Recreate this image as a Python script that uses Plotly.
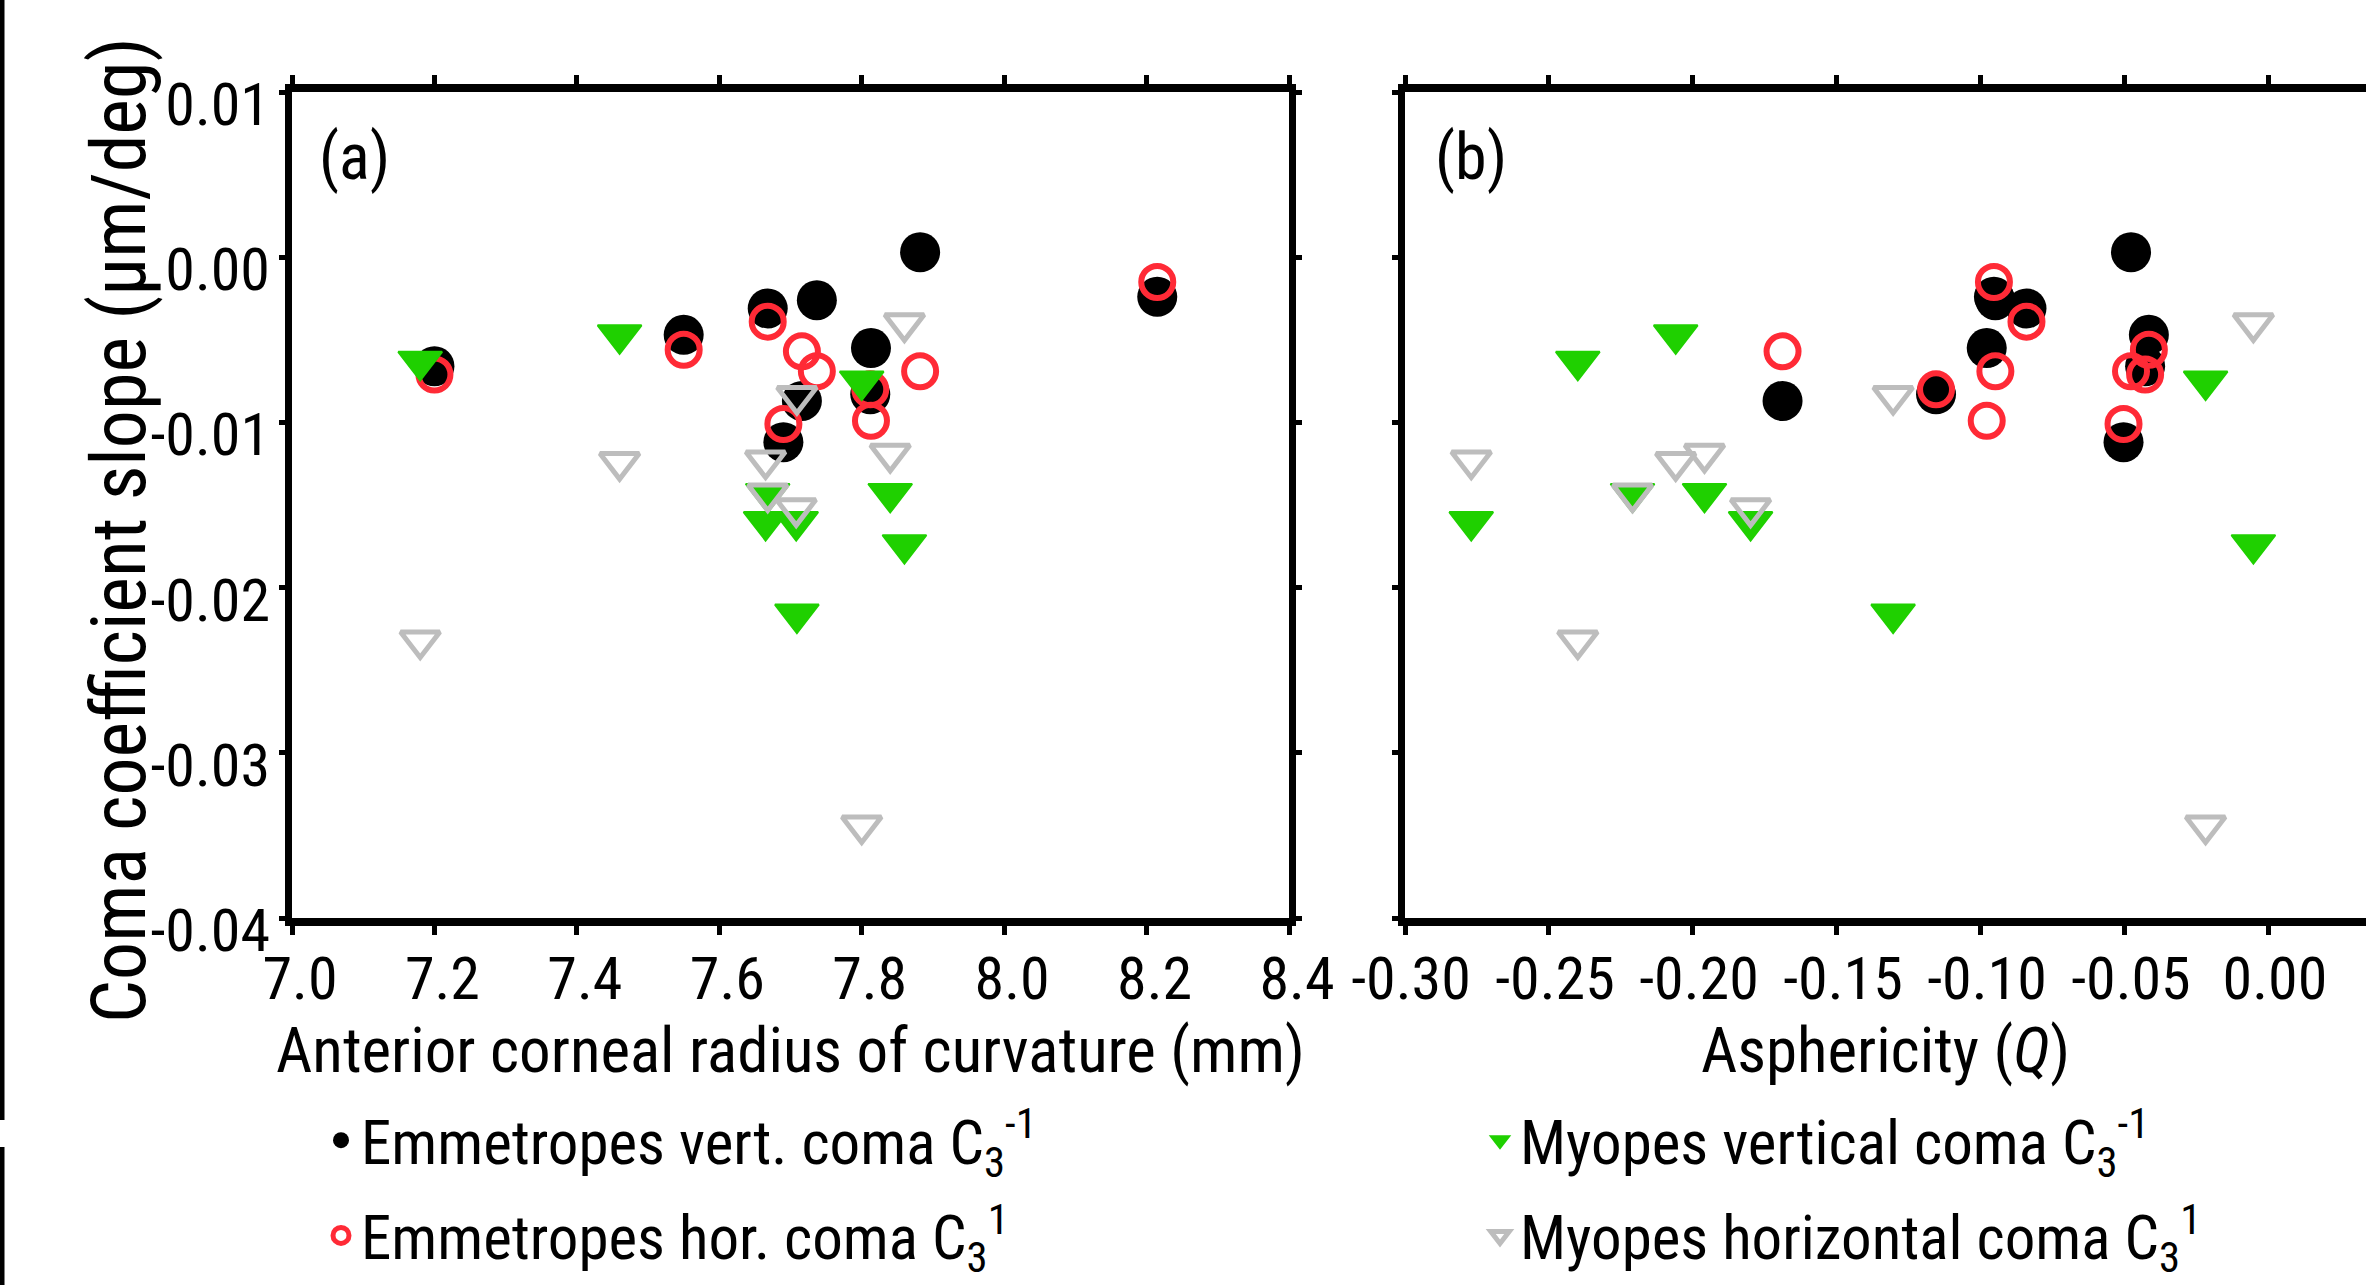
import plotly.graph_objects as go

# ---------------- data ----------------
# Emmetropes (10 eyes)
radius_emm = [7.20, 7.55, 7.668, 7.737, 7.882, 7.813, 7.812, 7.716, 7.690, 8.215]
q_emm = [-0.043, -0.0417, -0.0842, -0.0950, -0.0479, -0.0980, -0.1156, -0.1689, -0.0505, -0.0955]
vert_emm = [-0.0066, -0.0047, -0.0031, -0.0026, 0.0003, -0.0055, -0.0083, -0.0087, -0.0112, -0.0024]
hor_emm = [-0.0071, -0.0056, -0.0039, -0.0069, -0.0069, -0.0099, -0.0080, -0.0057, -0.0101, -0.0015]

# Myopes (9 eyes)
radius_myo = [7.18, 7.46, 7.665, 7.668, 7.708, 7.709, 7.80, 7.84, 7.86]
q_myo = [-0.240, -0.206, -0.277, -0.221, -0.180, -0.1305, -0.022, -0.196, -0.0054]
vert_myo = [-0.0063, -0.0047, -0.0160, -0.0143, -0.0160, -0.0216, -0.0075, -0.0143, -0.0174]
hor_myo = [-0.0232, -0.0124, -0.0123, -0.0143, -0.0152, -0.0084, -0.0344, -0.0119, -0.0040]

# axes ticks / labels
x_a_ticks = [7.0, 7.2, 7.4, 7.6, 7.8, 8.0, 8.2, 8.4]
x_a_labels = ["7.0", "7.2", "7.4", "7.6", "7.8", "8.0", "8.2", "8.4"]
x_b_ticks = [-0.30, -0.25, -0.20, -0.15, -0.10, -0.05, 0.00]
x_b_labels = ["-0.30", "-0.25", "-0.20", "-0.15", "-0.10", "-0.05", "0.00"]
y_ticks = [0.01, 0.0, -0.01, -0.02, -0.03, -0.04]
y_labels = ["0.01", "0.00", "-0.01", "-0.02", "-0.03", "-0.04"]

series_names = [
    "Emmetropes vert. coma C<sub>3</sub><sup>-1</sup>",
    "Emmetropes hor. coma C<sub>3</sub><sup>1</sup>",
    "Myopes vertical coma C<sub>3</sub><sup>-1</sup>",
    "Myopes horizontal coma C<sub>3</sub><sup>1</sup>",
]

# ---------------- styles ----------------
FONT = "Roboto Condensed, Liberation Sans Narrow, Arial Narrow, Liberation Sans, Arial, sans-serif"
BLACK = "#000000"
RED = "#FF2A36"
GREEN = "#1FD000"
GRAY = "#BDBDBD"

styles = {
    "emm_vert": dict(symbol="circle", size=40, color=BLACK, line=dict(width=0)),
    "emm_hor": dict(symbol="circle-open", size=32, color=RED, line=dict(width=6, color=RED)),
    "myo_vert": dict(symbol="triangle-down", size=38, color=GREEN, line=dict(width=2, color=GREEN)),
    "myo_hor": dict(symbol="triangle-down-open", size=34, color=GRAY, line=dict(width=5, color=GRAY)),
}

fig = go.Figure()

panels = [
    ("x", "y", radius_emm, radius_myo, True),
    ("x2", "y2", q_emm, q_myo, False),
]
for xa, ya, xe, xm, show in panels:
    fig.add_trace(go.Scatter(x=xe, y=vert_emm, mode="markers", name=series_names[0],
                             marker=styles["emm_vert"], xaxis=xa, yaxis=ya,
                             showlegend=show, legend="legend", legendgroup="ev", legendrank=1))
    fig.add_trace(go.Scatter(x=xe, y=hor_emm, mode="markers", name=series_names[1],
                             marker=styles["emm_hor"], xaxis=xa, yaxis=ya,
                             showlegend=show, legend="legend", legendgroup="eh", legendrank=2))
    fig.add_trace(go.Scatter(x=xm, y=vert_myo, mode="markers", name=series_names[2],
                             marker=styles["myo_vert"], xaxis=xa, yaxis=ya,
                             showlegend=show, legend="legend2", legendgroup="mv", legendrank=1))
    fig.add_trace(go.Scatter(x=xm, y=hor_myo, mode="markers", name=series_names[3],
                             marker=styles["myo_hor"], xaxis=xa, yaxis=ya,
                             showlegend=show, legend="legend2", legendgroup="mh", legendrank=2))

W, H = 2366, 1285
ML, MR, MT, MB = 292, 0, 92, 367
plot_w = W - ML - MR
plot_h = H - MT - MB
dom_a = [0, (1289 - ML) / plot_w]
dom_b = [(1405 - ML) / plot_w, 1.0]

tickfont = dict(family=FONT, size=60, color="black")
titlefont = dict(family=FONT, size=63, color="black")

common_x = dict(showline=True, linewidth=8, linecolor="black", mirror="ticks",
                ticks="outside", ticklen=9, tickwidth=5, tickcolor="black",
                showgrid=False, zeroline=False, tickfont=tickfont, tickangle=0,
                ticklabelstandoff=-8, title_font=titlefont, title_standoff=4,
                automargin=False)
common_y = dict(showline=True, linewidth=7, linecolor="black",
                ticks="outside", ticklen=6, tickwidth=5, tickcolor="black",
                showgrid=False, zeroline=False, tickfont=tickfont,
                range=[-0.04, 0.01], tickvals=y_ticks, automargin=False)

legend_common = dict(orientation="v", xanchor="left", yanchor="top",
                     font=dict(family=FONT, size=61, color="black"),
                     itemsizing="trace", tracegroupgap=13, traceorder="grouped",
                     bgcolor="rgba(0,0,0,0)")

fig.update_layout(
    width=W, height=H,
    margin=dict(l=ML, r=MR, t=MT, b=MB, autoexpand=False),
    paper_bgcolor="white", plot_bgcolor="white",
    font=dict(family=FONT, color="black"),
    xaxis=dict(domain=dom_a, range=[7.0, 8.4], tickvals=x_a_ticks, ticktext=x_a_labels,
               anchor="y", ticklabelshift=8,
               title=dict(text="Anterior corneal radius of curvature (mm)"), **common_x),
    xaxis2=dict(domain=dom_b, range=[-0.30, 0.0337], tickvals=x_b_ticks, ticktext=x_b_labels,
                anchor="y2", ticklabelshift=6,
                title=dict(text="Asphericity (<i>Q</i>)"), **common_x),
    yaxis=dict(anchor="x", ticktext=y_labels, mirror="ticks", ticklabelshift=12,
               ticklabelstandoff=-3, **common_y),
    yaxis2=dict(anchor="x2", showticklabels=False, mirror=False, **common_y),
    legend=dict(x=(321 - ML) / plot_w, y=(918 - 1094) / plot_h, **legend_common),
    legend2=dict(x=(1480 - ML) / plot_w, y=(918 - 1094) / plot_h, **legend_common),
    annotations=[
        dict(text="(a)", xref="x domain", yref="y domain", x=0.063, y=0.921,
             xanchor="center", yanchor="middle", showarrow=False,
             font=dict(family=FONT, size=64, color="black")),
        dict(text="(b)", xref="x2 domain", yref="y2 domain", x=0.069, y=0.921,
             xanchor="center", yanchor="middle", showarrow=False,
             font=dict(family=FONT, size=64, color="black")),
        dict(text="Coma coefficient slope (µm/deg)", xref="paper", yref="paper",
             x=(119 - ML) / plot_w, y=(918 - 530) / plot_h,
             xanchor="center", yanchor="middle", textangle=-90, showarrow=False,
             font=dict(family=FONT, size=76, color="black")),
    ],
    shapes=[
        dict(type="line", xref="paper", yref="paper", x0=-(ML - 2) / plot_w, x1=-(ML - 2) / plot_w,
             y0=1 + MT / plot_h, y1=(918 - 1120) / plot_h,
             line=dict(color="black", width=5)),
        dict(type="line", xref="paper", yref="paper", x0=-(ML - 2) / plot_w, x1=-(ML - 2) / plot_w,
             y0=(918 - 1147) / plot_h, y1=-MB / plot_h,
             line=dict(color="black", width=5)),
    ],
)

fig.write_html("out.html")
